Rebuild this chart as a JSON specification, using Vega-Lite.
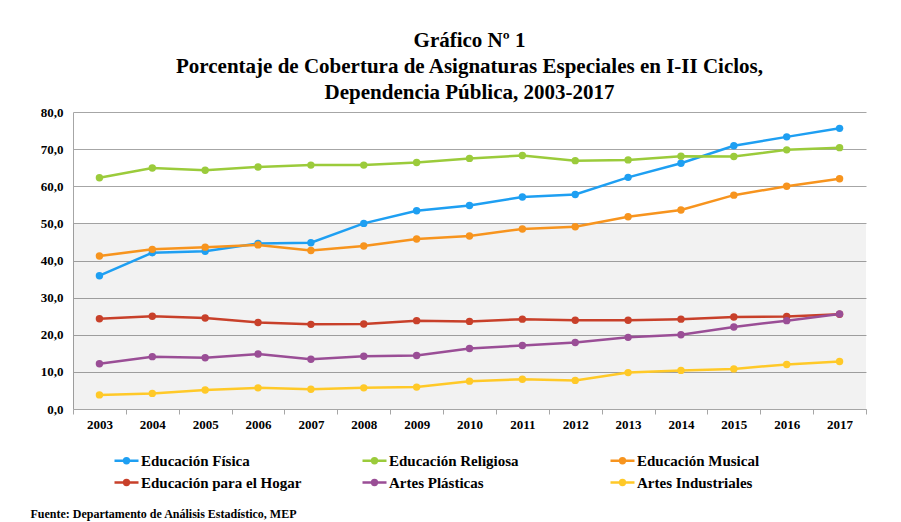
{
  "$schema": "https://vega.github.io/schema/vega-lite/v6.json",
  "width": 793,
  "height": 297,
  "autosize": {"type": "none"},
  "padding": {"left": 73, "top": 112, "right": 35, "bottom": 113},
  "background": "white",
  "title": {
    "text": ["Gráfico Nº 1", "Porcentaje de Cobertura de Asignaturas Especiales en I-II Ciclos,", "Dependencia Pública, 2003-2017"],
    "font": "Liberation Serif",
    "fontSize": 21,
    "fontWeight": "bold",
    "lineHeight": 26,
    "anchor": "middle",
    "offset": 3,
    "color": "black"
  },
  "config": {
    "locale": {"number": {"decimal": ",", "thousands": ".", "grouping": [3], "currency": ["", ""]}},
    "view": {"stroke": null},
    "axis": {
      "labelFont": "Liberation Serif",
      "labelFontWeight": "bold",
      "labelColor": "black",
      "labelOverlap": false,
      "domainColor": "#A6A6A6",
      "tickColor": "#A6A6A6"
    },
    "axisY": {"labelOverlap": false},
    "axisQuantitative": {"labelOverlap": false},
    "legend": {
      "labelFont": "Liberation Serif",
      "labelFontWeight": "bold",
      "labelColor": "black"
    }
  },
  "resolve": {"axis": {"y": "independent"}},
  "layer": [
    {
      "data": {"values": [{"desde": 0, "hasta": 50}]},
      "mark": {"type": "rect", "color": "black", "opacity": 0.05},
      "encoding": {
        "y": {
          "field": "desde",
          "type": "quantitative",
          "scale": {"domain": [0, 80]},
          "axis": null
        },
        "y2": {"field": "hasta"}
      }
    },
    {
      "data": {
        "values": [
          {"anio": "2003", "serie": "Educación Física", "valor": 35.9},
          {"anio": "2004", "serie": "Educación Física", "valor": 42.1},
          {"anio": "2005", "serie": "Educación Física", "valor": 42.5},
          {"anio": "2006", "serie": "Educación Física", "valor": 44.6},
          {"anio": "2007", "serie": "Educación Física", "valor": 44.8},
          {"anio": "2008", "serie": "Educación Física", "valor": 50.0},
          {"anio": "2009", "serie": "Educación Física", "valor": 53.4},
          {"anio": "2010", "serie": "Educación Física", "valor": 54.8},
          {"anio": "2011", "serie": "Educación Física", "valor": 57.1},
          {"anio": "2012", "serie": "Educación Física", "valor": 57.8},
          {"anio": "2013", "serie": "Educación Física", "valor": 62.4},
          {"anio": "2014", "serie": "Educación Física", "valor": 66.2},
          {"anio": "2015", "serie": "Educación Física", "valor": 70.9},
          {"anio": "2016", "serie": "Educación Física", "valor": 73.3},
          {"anio": "2017", "serie": "Educación Física", "valor": 75.6},
          {"anio": "2003", "serie": "Educación Religiosa", "valor": 62.3},
          {"anio": "2004", "serie": "Educación Religiosa", "valor": 64.9},
          {"anio": "2005", "serie": "Educación Religiosa", "valor": 64.3},
          {"anio": "2006", "serie": "Educación Religiosa", "valor": 65.2},
          {"anio": "2007", "serie": "Educación Religiosa", "valor": 65.7},
          {"anio": "2008", "serie": "Educación Religiosa", "valor": 65.7},
          {"anio": "2009", "serie": "Educación Religiosa", "valor": 66.4},
          {"anio": "2010", "serie": "Educación Religiosa", "valor": 67.5},
          {"anio": "2011", "serie": "Educación Religiosa", "valor": 68.3},
          {"anio": "2012", "serie": "Educación Religiosa", "valor": 66.9},
          {"anio": "2013", "serie": "Educación Religiosa", "valor": 67.1},
          {"anio": "2014", "serie": "Educación Religiosa", "valor": 68.1},
          {"anio": "2015", "serie": "Educación Religiosa", "valor": 68.0},
          {"anio": "2016", "serie": "Educación Religiosa", "valor": 69.8},
          {"anio": "2017", "serie": "Educación Religiosa", "valor": 70.4},
          {"anio": "2003", "serie": "Educación Musical", "valor": 41.2},
          {"anio": "2004", "serie": "Educación Musical", "valor": 43.0},
          {"anio": "2005", "serie": "Educación Musical", "valor": 43.6},
          {"anio": "2006", "serie": "Educación Musical", "valor": 44.2},
          {"anio": "2007", "serie": "Educación Musical", "valor": 42.7},
          {"anio": "2008", "serie": "Educación Musical", "valor": 43.9},
          {"anio": "2009", "serie": "Educación Musical", "valor": 45.8},
          {"anio": "2010", "serie": "Educación Musical", "valor": 46.6},
          {"anio": "2011", "serie": "Educación Musical", "valor": 48.5},
          {"anio": "2012", "serie": "Educación Musical", "valor": 49.1},
          {"anio": "2013", "serie": "Educación Musical", "valor": 51.8},
          {"anio": "2014", "serie": "Educación Musical", "valor": 53.6},
          {"anio": "2015", "serie": "Educación Musical", "valor": 57.6},
          {"anio": "2016", "serie": "Educación Musical", "valor": 60.0},
          {"anio": "2017", "serie": "Educación Musical", "valor": 62.0},
          {"anio": "2003", "serie": "Educación para el Hogar", "valor": 24.3},
          {"anio": "2004", "serie": "Educación para el Hogar", "valor": 25.0},
          {"anio": "2005", "serie": "Educación para el Hogar", "valor": 24.5},
          {"anio": "2006", "serie": "Educación para el Hogar", "valor": 23.3},
          {"anio": "2007", "serie": "Educación para el Hogar", "valor": 22.8},
          {"anio": "2008", "serie": "Educación para el Hogar", "valor": 22.9},
          {"anio": "2009", "serie": "Educación para el Hogar", "valor": 23.8},
          {"anio": "2010", "serie": "Educación para el Hogar", "valor": 23.6},
          {"anio": "2011", "serie": "Educación para el Hogar", "valor": 24.2},
          {"anio": "2012", "serie": "Educación para el Hogar", "valor": 23.9},
          {"anio": "2013", "serie": "Educación para el Hogar", "valor": 23.9},
          {"anio": "2014", "serie": "Educación para el Hogar", "valor": 24.2},
          {"anio": "2015", "serie": "Educación para el Hogar", "valor": 24.8},
          {"anio": "2016", "serie": "Educación para el Hogar", "valor": 24.9},
          {"anio": "2017", "serie": "Educación para el Hogar", "valor": 25.5},
          {"anio": "2003", "serie": "Artes Plásticas", "valor": 12.2},
          {"anio": "2004", "serie": "Artes Plásticas", "valor": 14.1},
          {"anio": "2005", "serie": "Artes Plásticas", "valor": 13.8},
          {"anio": "2006", "serie": "Artes Plásticas", "valor": 14.8},
          {"anio": "2007", "serie": "Artes Plásticas", "valor": 13.4},
          {"anio": "2008", "serie": "Artes Plásticas", "valor": 14.2},
          {"anio": "2009", "serie": "Artes Plásticas", "valor": 14.4},
          {"anio": "2010", "serie": "Artes Plásticas", "valor": 16.3},
          {"anio": "2011", "serie": "Artes Plásticas", "valor": 17.1},
          {"anio": "2012", "serie": "Artes Plásticas", "valor": 17.9},
          {"anio": "2013", "serie": "Artes Plásticas", "valor": 19.3},
          {"anio": "2014", "serie": "Artes Plásticas", "valor": 20.0},
          {"anio": "2015", "serie": "Artes Plásticas", "valor": 22.1},
          {"anio": "2016", "serie": "Artes Plásticas", "valor": 23.8},
          {"anio": "2017", "serie": "Artes Plásticas", "valor": 25.6},
          {"anio": "2003", "serie": "Artes Industriales", "valor": 3.8},
          {"anio": "2004", "serie": "Artes Industriales", "valor": 4.2},
          {"anio": "2005", "serie": "Artes Industriales", "valor": 5.1},
          {"anio": "2006", "serie": "Artes Industriales", "valor": 5.7},
          {"anio": "2007", "serie": "Artes Industriales", "valor": 5.3},
          {"anio": "2008", "serie": "Artes Industriales", "valor": 5.7},
          {"anio": "2009", "serie": "Artes Industriales", "valor": 5.9},
          {"anio": "2010", "serie": "Artes Industriales", "valor": 7.5},
          {"anio": "2011", "serie": "Artes Industriales", "valor": 8.0},
          {"anio": "2012", "serie": "Artes Industriales", "valor": 7.7},
          {"anio": "2013", "serie": "Artes Industriales", "valor": 9.8},
          {"anio": "2014", "serie": "Artes Industriales", "valor": 10.4},
          {"anio": "2015", "serie": "Artes Industriales", "valor": 10.8},
          {"anio": "2016", "serie": "Artes Industriales", "valor": 12.0},
          {"anio": "2017", "serie": "Artes Industriales", "valor": 12.8}
        ]
      },
      "mark": {"type": "line", "strokeWidth": 2.5, "point": {"size": 55, "filled": true, "opacity": 1}},
      "encoding": {
        "x": {
          "field": "anio",
          "type": "ordinal",
          "scale": {"type": "band", "paddingInner": 0, "paddingOuter": 0},
          "axis": {
            "title": "Fuente: Departamento de Análisis Estadístico, MEP",
            "titleFont": "Liberation Serif",
            "titleFontSize": 12,
            "titleFontWeight": "bold",
            "titleColor": "black",
            "titleAnchor": "start",
            "titleAlign": "left",
            "titleBaseline": "alphabetic",
            "titleX": -43,
            "titleY": 108,
            "labelAngle": 0,
            "labelFontSize": 13,
            "labelPadding": 4,
            "tickBand": "extent",
            "tickSize": 5,
            "grid": false
          }
        },
        "y": {
          "field": "valor",
          "type": "quantitative",
          "scale": {"domain": [0, 80], "nice": false},
          "axis": {
            "title": null,
            "values": [0, 10, 20, 30, 40, 50, 60, 70, 80],
            "format": ".1f",
            "labelOverlap": false,
            "labelSeparation": 0,
            "labelFontSize": 13,
            "labelPadding": 10,
            "ticks": false,
            "grid": true,
            "gridColor": "#A6A6A6",
            "gridWidth": 1
          }
        },
        "color": {
          "field": "serie",
          "type": "nominal",
          "scale": {
            "domain": ["Educación Física", "Educación Religiosa", "Educación Musical", "Educación para el Hogar", "Artes Plásticas", "Artes Industriales"],
            "range": ["#1E9FF2", "#9BCB3B", "#F7941E", "#C8402A", "#9A4E96", "#FFC928"]
          },
          "legend": {
            "title": null,
            "orient": "none",
            "legendX": 40,
            "legendY": 335,
            "direction": "horizontal",
            "columns": 3,
            "gridAlign": "all",
            "columnPadding": 55,
            "rowPadding": 0,
            "padding": 0,
            "labelFontSize": 15,
            "labelLimit": 300,
            "labelOffset": 1,
            "symbolType": "M-1,0H1M-0.2,0A0.2,0.2,0,1,0,0.2,0A0.2,0.2,0,1,0,-0.2,0Z",
            "symbolSize": 576,
            "symbolStrokeWidth": 2.5,
            "encode": {
              "symbols": {"update": {"fill": {"scale": "color", "field": "value"}}}
            }
          }
        }
      }
    }
  ]
}
